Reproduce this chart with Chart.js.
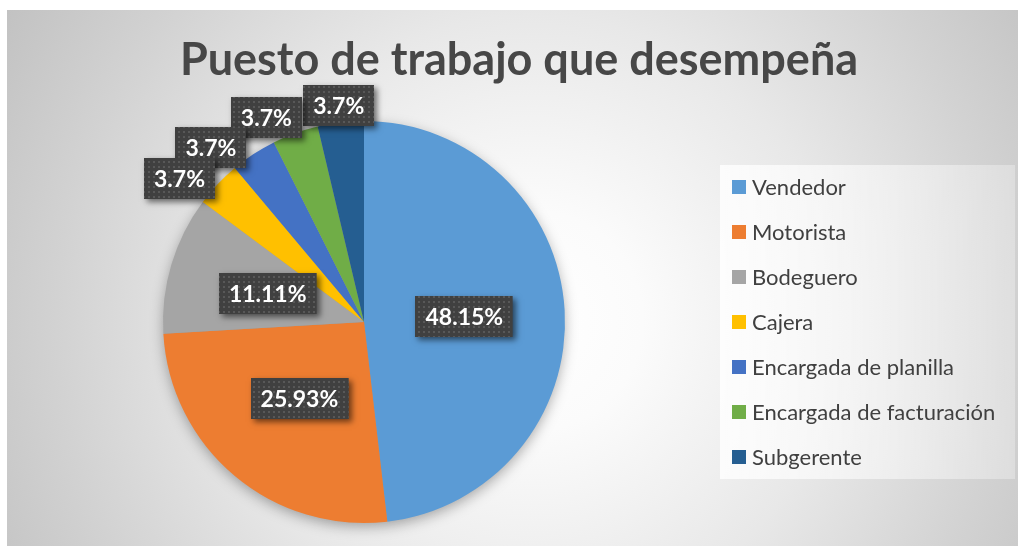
<!DOCTYPE html>
<html>
<head>
<meta charset="utf-8">
<script src="https://cdn.jsdelivr.net/npm/chart.js@4.4.1/dist/chart.umd.min.js"></script>
<style>
    html, body { margin: 0; padding: 0; background: #fff; }
    #frame {
        position: absolute; left: 7px; top: 10px; width: 1011px; height: 536px;
        background: radial-gradient(circle farthest-corner at 52% 58%, #ffffff 0%, #fbfbfb 18%, #e8e8e8 50%, #d2d2d2 78%, #c2c2c2 100%);
    }
</style>
</head>
<body>
<div id="frame"><canvas id="puestos"></canvas></div>
<script>
const categories = ['Vendedor', 'Motorista', 'Bodeguero', 'Cajera', 'Encargada de planilla', 'Encargada de facturación', 'Subgerente'];
const counts = [13, 7, 3, 1, 1, 1, 1];
const colors = ['#5B9BD5', '#ED7D31', '#A5A5A5', '#FFC000', '#4472C4', '#70AD47', '#255E91'];
const titleText = 'Puesto de trabajo que desempeña';

const canvas = document.getElementById('puestos');

// 48.148 -> "48.15%", 3.7037 -> "3.7%"
function formatPct(value) {
    return Number(value.toFixed(2)) + '%';
}

// dark dotted fill used behind the data labels
function makeDotPattern(ctx) {
    const tile = document.createElement('canvas');
    tile.width = 5;
    tile.height = 5;
    const t = tile.getContext('2d');
    t.fillStyle = '#585858';
    t.fillRect(1, 1, 2, 2);
    return ctx.createPattern(tile, 'repeat');
}

function drawLegend(chart, box) {
    const ctx = chart.ctx;
    const area = chart.chartArea;
    const midY = (area.top + area.bottom) / 2;
    const pw = 295, ph = 314;
    const px = box.left + 12, py = midY - ph / 2;

    ctx.save();
    const g = ctx.createLinearGradient(px, 0, px + pw, 0);
    g.addColorStop(0, 'rgba(255,255,255,0.8)');
    g.addColorStop(1, 'rgba(255,255,255,0.3)');
    ctx.fillStyle = g;
    ctx.fillRect(px, py, pw, ph);

    ctx.font = '22px Lato';
    ctx.textBaseline = 'middle';
    categories.forEach((name, i) => {
        const y = midY + (i - (categories.length - 1) / 2) * 45;
        ctx.fillStyle = colors[i];
        ctx.fillRect(px + 12, y - 7, 14, 14);
        ctx.fillStyle = '#404040';
        ctx.fillText(name, px + 32, y + 1);
    });
    ctx.restore();
}

// reserves the right-hand strip and paints the legend in it
const legendPanel = {
    id: 'legendPanel',
    beforeInit(chart) {
        const box = {
            position: 'right',
            weight: 100,
            fullSize: false,
            options: {},
            left: 0, top: 0, right: 0, bottom: 0, width: 0, height: 0,
            update(maxWidth, maxHeight) {
                this.width = 310;
                this.height = maxHeight;
            },
            isHorizontal() { return false; },
            getPadding() { return {top: 0, left: 0, right: 0, bottom: 0}; },
            draw() { drawLegend(chart, this); }
        };
        Chart.layouts.addBox(chart, box);
    }
};

// soft shadow under the whole pie
const pieShadow = {
    id: 'pieShadow',
    beforeDatasetsDraw(chart) {
        const arc = chart.getDatasetMeta(0).data[0];
        if (!arc) return;
        const {x, y, outerRadius} = arc.getProps(['x', 'y', 'outerRadius'], true);
        const ctx = chart.ctx;
        ctx.save();
        ctx.shadowColor = 'rgba(0,0,0,0.35)';
        ctx.shadowBlur = 14;
        ctx.shadowOffsetY = 4;
        ctx.fillStyle = '#999';
        ctx.beginPath();
        ctx.arc(x, y, outerRadius - 1, 0, Math.PI * 2);
        ctx.fill();
        ctx.restore();
    }
};

function drawCallout(ctx, dots, text, cx, cy, w, h) {
    const bx = Math.round(cx - w / 2), by = Math.round(cy - h / 2);
    ctx.shadowColor = 'rgba(0,0,0,0.55)';
    ctx.shadowBlur = 6;
    ctx.shadowOffsetX = 3;
    ctx.shadowOffsetY = 3;
    ctx.fillStyle = '#404040';
    ctx.fillRect(bx, by, w, h);
    ctx.shadowColor = 'transparent';
    ctx.fillStyle = dots;
    ctx.fillRect(bx, by, w, h);
    ctx.fillStyle = '#ffffff';
    ctx.fillText(text, cx, cy + 1);
}

// percentage callouts: inside for big slices, just outside for thin ones
const pctLabels = {
    id: 'pctLabels',
    afterDatasetsDraw(chart) {
        const ctx = chart.ctx;
        const meta = chart.getDatasetMeta(0);
        const total = counts.reduce((a, b) => a + b, 0);
        const dots = makeDotPattern(ctx);
        const h = 41;

        ctx.save();
        ctx.font = 'bold 23px Lato';
        ctx.textAlign = 'center';
        ctx.textBaseline = 'middle';

        let prev = null;
        for (let i = meta.data.length - 1; i >= 0; i--) {
            const {x, y, startAngle, endAngle, outerRadius} =
                meta.data[i].getProps(['x', 'y', 'startAngle', 'endAngle', 'outerRadius'], true);
            const mid = (startAngle + endAngle) / 2;
            const share = counts[i] / total;
            const text = formatPct(share * 100);
            const w = ctx.measureText(text).width + 20;

            if (share > 0.08) {
                const d = outerRadius / 2;
                drawCallout(ctx, dots, text, x + Math.cos(mid) * d, y + Math.sin(mid) * d, w, h);
                continue;
            }

            // box sits just past the rim; slide it counter-clockwise
            // until it stays off the text row of the previous label
            const outside = (a) => {
                const dx = Math.cos(a), dy = Math.sin(a);
                const d = outerRadius - 8 + (w / 2) * Math.abs(dx) + (h / 2) * Math.abs(dy);
                return {cx: x + dx * d, cy: y + dy * d};
            };
            const covers = (p) => prev &&
                p.cx - w / 2 < prev.cx + prev.w / 2 && p.cx + w / 2 > prev.cx - prev.w / 2 &&
                p.cy - h / 2 < prev.cy + 10 && p.cy + h / 2 > prev.cy - 10;

            let a = mid;
            let pos = outside(a);
            while (covers(pos) && a > mid - Math.PI / 3) {
                a -= Math.PI / 360;
                pos = outside(a);
            }
            drawCallout(ctx, dots, text, pos.cx, pos.cy, w, h);
            prev = {cx: pos.cx, cy: pos.cy, w: w};
        }
        ctx.restore();
    }
};

new Chart(canvas, {
    type: 'pie',
    data: {
        labels: categories,
        datasets: [{
            data: counts,
            backgroundColor: colors,
            borderWidth: 0,
            hoverOffset: 0
        }]
    },
    options: {
        responsive: true,
        maintainAspectRatio: false,
        animation: false,
        layout: {padding: {left: 13, bottom: 23}},
        plugins: {
            legend: {display: false},
            tooltip: {enabled: false},
            title: {
                display: true,
                text: titleText,
                color: '#474747',
                font: {family: 'Lato', size: 45, weight: 'bold', lineHeight: 1.2},
                padding: {top: 23, bottom: 34}
            }
        }
    },
    plugins: [legendPanel, pieShadow, pctLabels]
});
</script>
</body>
</html>
